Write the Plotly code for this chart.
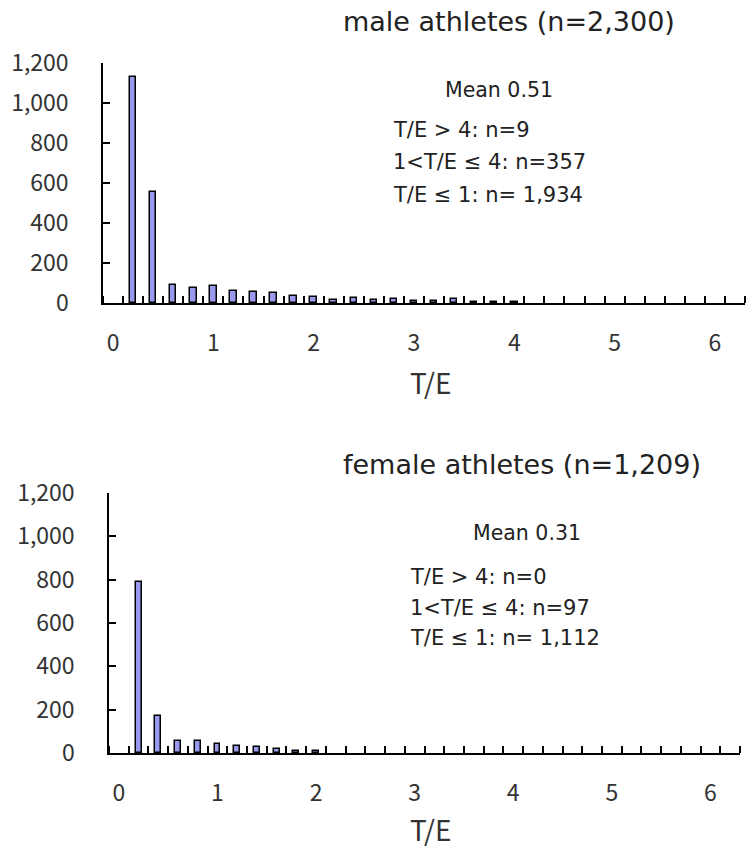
import plotly.graph_objects as go

# ---- data ----
male_bins = [0.2, 0.4, 0.6, 0.8, 1.0, 1.2, 1.4, 1.6, 1.8, 2.0,
             2.2, 2.4, 2.6, 2.8, 3.0, 3.2, 3.4, 3.6, 3.8, 4.0]
male_counts = [1130, 557, 90, 73, 84, 62, 55, 50, 34, 28,
               16, 26, 16, 18, 8, 8, 18, 6, 6, 6]

female_bins = [0.2, 0.4, 0.6, 0.8, 1.0, 1.2, 1.4, 1.6, 1.8, 2.0]
female_counts = [790, 172, 55, 55, 40, 34, 27, 18, 9, 9]

x_tick_vals = [0, 1, 2, 3, 4, 5, 6]
x_tick_text = ["0", "1", "2", "3", "4", "5", "6"]
y_tick_vals = [0, 200, 400, 600, 800, 1000, 1200]
y_tick_text = ["0", "200", "400", "600", "800", "1,000", "1,200"]

male_title = "male athletes (n=2,300)"
female_title = "female athletes (n=1,209)"
male_mean = "Mean 0.51"
female_mean = "Mean 0.31"
male_lines = ["T/E > 4: n=9", "1<T/E ≤ 4: n=357", "T/E ≤ 1: n= 1,934"]
female_lines = ["T/E > 4: n=0", "1<T/E ≤ 4: n=97", "T/E ≤ 1: n= 1,112"]

NUMFONT = "Noto Sans CJK JP"
TXTFONT = "DejaVu Sans"
TXT = "#222222"
W, H = 747, 848

fig = go.Figure()
fig.add_trace(go.Bar(x=male_bins, y=male_counts, width=0.065,
                     marker=dict(color="#9999EE", line=dict(color="black", width=1.5)),
                     xaxis="x", yaxis="y", showlegend=False))
fig.add_trace(go.Bar(x=female_bins, y=female_counts, width=0.06,
                     marker=dict(color="#9999EE", line=dict(color="black", width=1.5)),
                     xaxis="x2", yaxis="y2", showlegend=False))

def xaxis_cfg(domain, anchor):
    return dict(domain=domain, anchor=anchor, range=[-0.1, 6.3], automargin=False,
                showline=True, linecolor="black", linewidth=1.5,
                showgrid=False, zeroline=False,
                tickvals=x_tick_vals, ticktext=x_tick_text, ticks="",
                ticklabelstandoff=19,
                tickfont=dict(family=NUMFONT, size=23, color="#333333"),
                minor=dict(ticks="inside", ticklen=7, tickwidth=1.5, tickcolor="black",
                           tick0=0.1, dtick=0.2, showgrid=False))

def yaxis_cfg(domain, anchor):
    return dict(domain=domain, anchor=anchor, range=[0, 1200], automargin=False,
                showline=True, linecolor="black", linewidth=1.5,
                showgrid=False, zeroline=False,
                tickvals=y_tick_vals, ticktext=y_tick_text,
                ticks="inside", ticklen=7, tickwidth=1.5, tickcolor="black",
                ticklabelstandoff=28,
                tickfont=dict(family=NUMFONT, size=23, color="#333333"))

top_x = [103 / W, 745 / W]
top_y = [1 - 303 / H, 1 - 63 / H]
bot_x = [109 / W, 740 / W]
bot_y = [1 - 753 / H, 1 - 493 / H]

fig.update_layout(
    width=W, height=H,
    margin=dict(l=0, r=0, t=0, b=0, pad=0),
    paper_bgcolor="white", plot_bgcolor="white",
    bargap=0,
    xaxis=xaxis_cfg(top_x, "y"),
    yaxis=yaxis_cfg(top_y, "x"),
    xaxis2=xaxis_cfg(bot_x, "y2"),
    yaxis2=yaxis_cfg(bot_y, "x2"),
)

def ann(text, x, y, size, xanchor="center", family=TXTFONT, color=TXT):
    fig.add_annotation(text=text, x=x / W, y=1 - y / H, xref="paper", yref="paper",
                       xanchor=xanchor, yanchor="middle", showarrow=False,
                       font=dict(family=family, size=size, color=color))

# axis titles
ann("T/E", 430, 382, 28, family=NUMFONT, color="#333333")
ann("T/E", 430, 829, 28, family=NUMFONT, color="#333333")

ann(male_title, 509, 22, 27)
ann(male_mean, 499, 90, 20.5)
for i, t in enumerate(male_lines):
    ann(t, 391, 130 + i * 32.5, 21, "left")

ann(female_title, 522, 464, 27)
ann(female_mean, 527, 533, 20.5)
for i, t in enumerate(female_lines):
    ann(t, 408, 577 + i * 30.5, 21, "left")

fig.write_html("out.html", config={"displayModeBar": False},
               post_script="document.body.style.margin='0';document.body.style.overflow='hidden';")
